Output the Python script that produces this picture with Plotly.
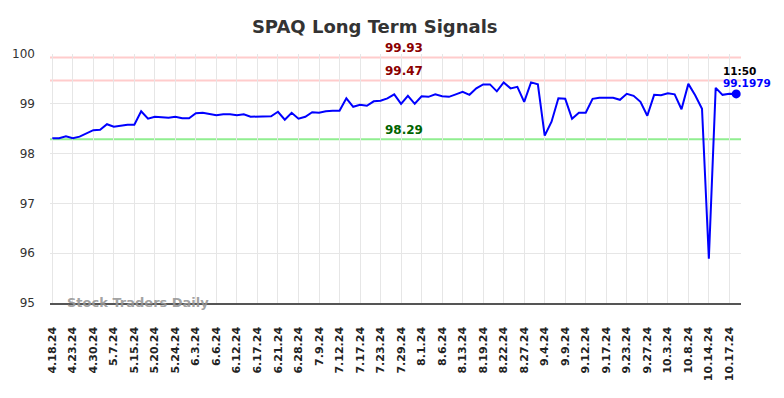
import plotly.graph_objects as go

tick_labels = ["4.18.24", "4.23.24", "4.30.24", "5.7.24", "5.15.24", "5.20.24", "5.24.24",
               "6.3.24", "6.6.24", "6.12.24", "6.17.24", "6.21.24", "6.28.24", "7.9.24",
               "7.12.24", "7.17.24", "7.23.24", "7.29.24", "8.1.24", "8.6.24", "8.13.24",
               "8.19.24", "8.22.24", "8.27.24", "9.4.24", "9.9.24", "9.12.24", "9.17.24",
               "9.23.24", "9.27.24", "10.3.24", "10.8.24", "10.14.24", "10.17.24"]

prices = [
    98.31, 98.31, 98.35, 98.31, 98.34, 98.40, 98.47, 98.48, 98.59, 98.54,
    98.56, 98.58, 98.58, 98.85, 98.70, 98.74, 98.73, 98.72, 98.74, 98.71,
    98.71, 98.81, 98.82, 98.80, 98.77, 98.79, 98.79, 98.77, 98.79, 98.74,
    98.74, 98.75, 98.75, 98.84, 98.68, 98.82, 98.70, 98.74, 98.83, 98.82,
    98.85, 98.86, 98.86, 99.11, 98.94, 98.98, 98.96, 99.05, 99.06, 99.11,
    99.19, 99.00, 99.16, 99.00, 99.15, 99.14, 99.19, 99.15, 99.14, 99.19,
    99.24, 99.18, 99.31, 99.39, 99.39, 99.25, 99.43, 99.31, 99.34, 99.04,
    99.43, 99.39, 98.36, 98.64, 99.11, 99.10, 98.70, 98.82, 98.82, 99.10,
    99.12, 99.12, 99.12, 99.08, 99.20, 99.16, 99.04, 98.76, 99.18, 99.17,
    99.21, 99.19, 98.89, 99.40, 99.17, 98.90, 95.89, 99.32, 99.18, 99.20,
    99.1979,
]

resistance_levels = [99.93, 99.47]
support_levels = [98.29]
last_time = "11:50"

x_idx = list(range(len(prices)))
tick_step = 3
tick_vals = list(range(0, len(prices), tick_step))[:len(tick_labels)]

fig = go.Figure()
fig.add_trace(go.Scatter(x=x_idx, y=prices, mode="lines",
                         line=dict(color="#0000ff", width=2), hoverinfo="skip"))
fig.add_trace(go.Scatter(x=[x_idx[-1]], y=[prices[-1]], mode="markers",
                         marker=dict(color="#0000ff", size=9), hoverinfo="skip"))

shapes = []
annotations = []
for lvl in resistance_levels:
    shapes.append(dict(type="line", xref="paper", x0=0, x1=1, yref="y", y0=lvl, y1=lvl,
                       line=dict(color="#ffcccc", width=2), layer="below"))
    annotations.append(dict(x=0.513, xref="paper", y=lvl, yref="y", text=f"{lvl:.2f}",
                            showarrow=False, yanchor="bottom", yshift=0,
                            font=dict(family="DejaVu Sans", size=12, color="#8b0000", weight="bold")))
for lvl in support_levels:
    shapes.append(dict(type="line", xref="paper", x0=0, x1=1, yref="y", y0=lvl, y1=lvl,
                       line=dict(color="#90ee90", width=2), layer="below"))
    annotations.append(dict(x=0.513, xref="paper", y=lvl, yref="y", text=f"{lvl:.2f}",
                            showarrow=False, yanchor="bottom", yshift=0,
                            font=dict(family="DejaVu Sans", size=12, color="#006400", weight="bold")))

annotations.append(dict(x=x_idx[-1], y=prices[-1], xref="x", yref="y", text=last_time,
                        showarrow=False, xanchor="left", yanchor="middle", xshift=-15, yshift=23,
                        font=dict(family="DejaVu Sans", size=10.5, color="#000000", weight="bold")))
annotations.append(dict(x=x_idx[-1], y=prices[-1], xref="x", yref="y", text=f"{prices[-1]}",
                        showarrow=False, xanchor="left", yanchor="middle", xshift=-15, yshift=10.5,
                        font=dict(family="DejaVu Sans", size=10.5, color="#0000ff", weight="bold")))
annotations.append(dict(x=0.021, xref="paper", y=95, yref="y", text="Stock Traders Daily",
                        showarrow=False, xanchor="left", yanchor="middle", yshift=1,
                        font=dict(family="DejaVu Sans", size=13, color="rgba(150,150,150,0.9)", weight="bold")))

fig.update_layout(
    width=784, height=398,
    margin=dict(l=47, r=43, t=54, b=95),
    paper_bgcolor="white", plot_bgcolor="white",
    showlegend=False,
    title=dict(text="SPAQ Long Term Signals", x=0.478, xref="container", xanchor="center",
               y=0.932, yanchor="middle",
               font=dict(family="DejaVu Sans", size=18, color="#333333", weight="bold")),
    shapes=shapes,
    annotations=annotations,
)
fig.update_xaxes(range=[-0.33, 100.7], tickmode="array", tickvals=tick_vals, ticktext=tick_labels,
                 tickangle=-90, showgrid=True, gridcolor="#e6e6e6", gridwidth=1,
                 showline=True, linecolor="#555555", linewidth=1.5, zeroline=False,
                 ticks="", ticklabelstandoff=18,
                 tickfont=dict(family="DejaVu Sans", size=11, color="#222222", weight="bold"))
fig.update_yaxes(range=[95, 100], tickmode="array", tickvals=[95, 96, 97, 98, 99, 100],
                 showgrid=True, gridcolor="#e6e6e6", gridwidth=1, zeroline=False,
                 showline=False, ticks="", ticklabelstandoff=14,
                 tickfont=dict(family="DejaVu Sans", size=12, color="#333333"))

fig.write_html("out.html", config={"displayModeBar": False, "staticPlot": True},
               post_script="document.body.style.margin='0';document.body.style.overflow='hidden';")
